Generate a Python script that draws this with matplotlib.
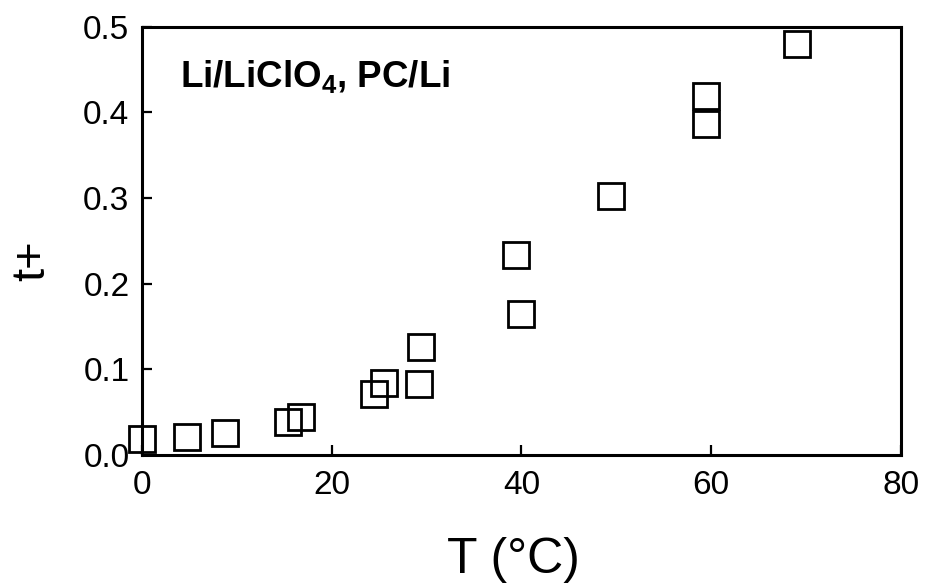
import matplotlib
matplotlib.use("Agg")
import matplotlib.pyplot as plt

plt.rcParams['font.family'] = ['Liberation Sans', 'DejaVu Sans']
plt.rcParams['mathtext.fontset'] = 'custom'
plt.rcParams['mathtext.rm'] = 'Liberation Sans:bold'
plt.rcParams['mathtext.bf'] = 'Liberation Sans:bold'
plt.rcParams['mathtext.default'] = 'rm'

# Data
temperature_C = [0, 4.7, 8.7, 15.4, 16.8, 24.5, 25.5, 29.2, 29.4, 39.4, 40.0, 49.4, 59.4, 59.4, 69.0]
t_plus = [0.019, 0.021, 0.026, 0.039, 0.044, 0.071, 0.084, 0.083, 0.126, 0.233, 0.165, 0.303, 0.419, 0.386, 0.480]

x_ticks = [0, 20, 40, 60, 80]
y_ticks = [0.0, 0.1, 0.2, 0.3, 0.4, 0.5]
y_tick_labels = ["0.0", "0.1", "0.2", "0.3", "0.4", "0.5"]

fig = plt.figure(figsize=(9.25, 5.84), dpi=100)
ax = fig.add_axes([0.1535, 0.221, 0.8205, 0.733])

ax.plot(temperature_C, t_plus, linestyle='none', marker='s', markersize=18.5,
        markerfacecolor='none', markeredgecolor='black', markeredgewidth=2.0,
        clip_on=False, zorder=3)

ax.set_xlim(0, 80)
ax.set_ylim(0, 0.5)
ax.set_xticks(x_ticks)
ax.set_xticklabels([str(v) for v in x_ticks])
ax.set_yticks(y_ticks)
ax.set_yticklabels(y_tick_labels)

for s in ax.spines.values():
    s.set_linewidth(2.2)
    s.set_color('black')

ax.tick_params(axis='both', direction='in', length=7, width=1.6, labelsize=24,
               top=False, right=False, colors='black')
ax.tick_params(axis='x', pad=11)
ax.tick_params(axis='y', pad=9)

ax.set_xlabel("T (°C)", fontsize=36)
ax.xaxis.set_label_coords(0.49, -0.30)
ax.xaxis.label.set_va('bottom')

ax.set_ylabel("t+", fontsize=34)
ax.yaxis.set_label_coords(-0.115, 0.453)

ax.text(0.05, 0.885, r"Li/LiClO$_4$, PC/Li", transform=ax.transAxes,
        fontsize=26.5, fontweight='bold', ha='left', va='center')

fig.savefig("out.png", dpi=100)
